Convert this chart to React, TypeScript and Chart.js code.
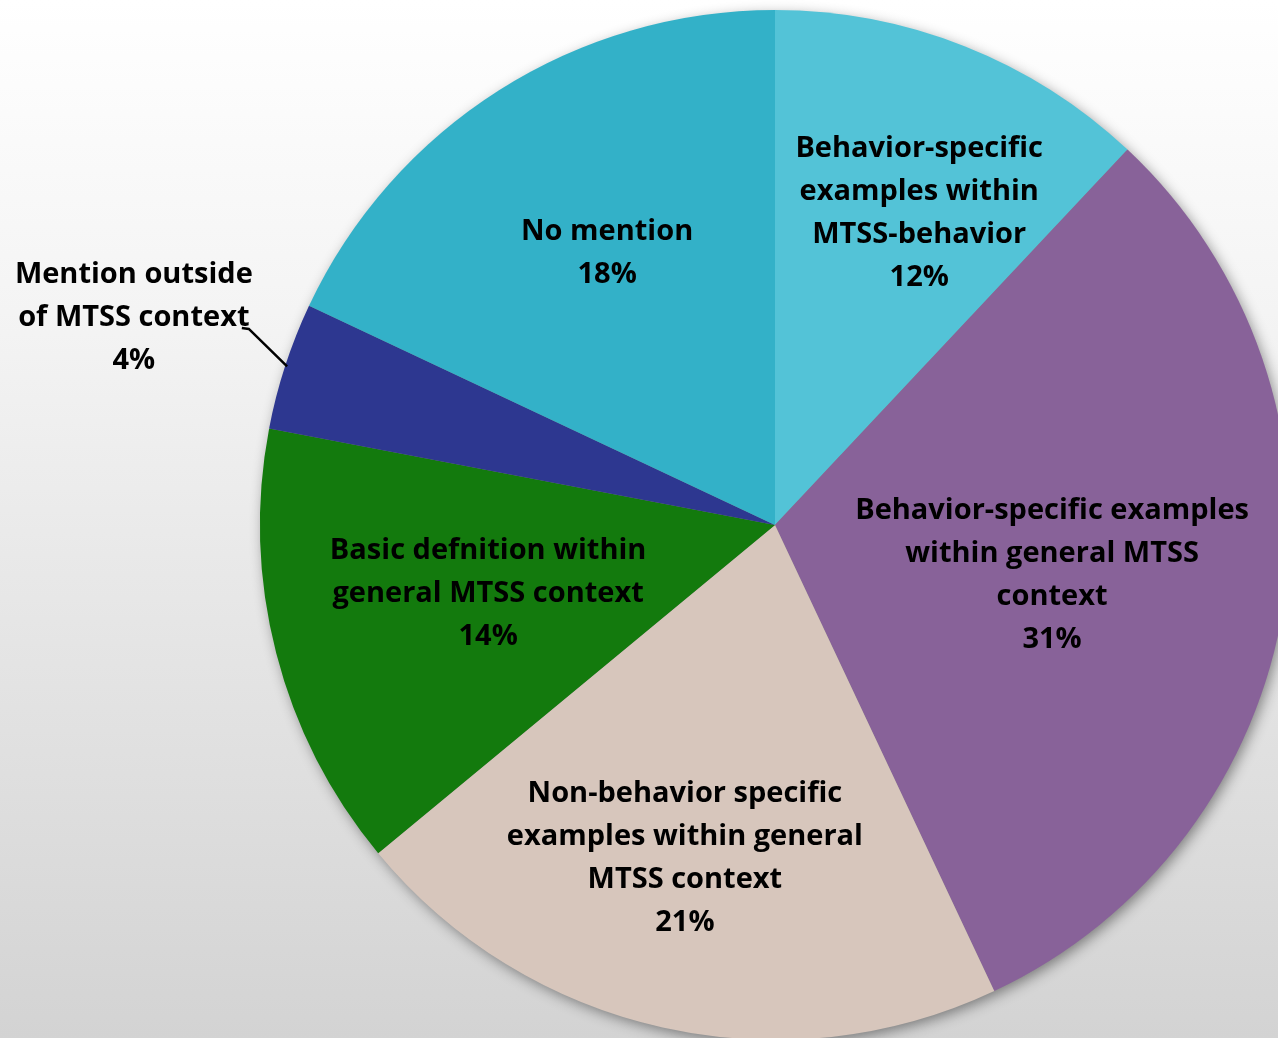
import React, { useEffect, useRef } from "react";
import { Chart, registerables } from "chart.js";

Chart.register(...registerables);

const categories: string[][] = [
  ["Behavior-specific", "examples within", "MTSS-behavior"],
  ["Behavior-specific examples", "within general MTSS", "context"],
  ["Non-behavior specific", "examples within general", "MTSS context"],
  ["Basic defnition within", "general MTSS context"],
  ["Mention outside", "of MTSS context"],
  ["No mention"],
];
const values: number[] = [12, 31, 21, 14, 4, 18];
const percentLabels: string[] = ["12%", "31%", "21%", "14%", "4%", "18%"];
const colors: string[] = ["#53C3D7", "#886299", "#D7C6BC", "#137A0D", "#2D3790", "#33B1C8"];

// label block centres, in units of the pie radius, relative to the pie centre
const labelOffsets: [number, number][] = [
  [0.28, -0.605],
  [0.538, 0.098],
  [-0.175, 0.648],
  [-0.557, 0.134],
  [-1.245, -0.402],
  [-0.326, -0.527],
];
const leaderIndex = 4;

const CW = 1300;
const CH = 1052;

export default function App() {
  const ref = useRef<HTMLCanvasElement | null>(null);
  useEffect(() => {
    if (!ref.current) return;
    const shadowPlugin = {
      id: "pieShadow",
      beforeDatasetsDraw(chart: any) {
        const arc = chart.getDatasetMeta(0).data[0] as any;
        if (!arc) return;
        const ctx = chart.ctx;
        ctx.save();
        ctx.beginPath();
        ctx.arc(arc.x, arc.y, arc.outerRadius - 1, 0, Math.PI * 2);
        ctx.fillStyle = "#888";
        ctx.shadowColor = "rgba(0,0,0,0.45)";
        ctx.shadowBlur = 14;
        ctx.shadowOffsetX = 3;
        ctx.shadowOffsetY = 4;
        ctx.fill();
        ctx.restore();
      },
    };
    const labelPlugin = {
      id: "pieLabels",
      afterDatasetsDraw(chart: any) {
        const meta = chart.getDatasetMeta(0);
        const ctx = chart.ctx;
        const lineH = 43;
        ctx.save();
        ctx.fillStyle = "#000";
        ctx.font = "bold 29px 'Open Sans'";
        ctx.textAlign = "center";
        ctx.textBaseline = "middle";
        meta.data.forEach((el: any, i: number) => {
          const r = el.outerRadius;
          const cx = el.x + labelOffsets[i][0] * r;
          const cy = el.y + labelOffsets[i][1] * r;
          const lines = [...categories[i], percentLabels[i]];
          const top = cy - ((lines.length - 1) * lineH) / 2;
          lines.forEach((t, j) => ctx.fillText(t, cx, top + j * lineH));
          if (i === leaderIndex) {
            const mid = (el.startAngle + el.endAngle) / 2;
            ctx.beginPath();
            ctx.strokeStyle = "#000";
            ctx.lineWidth = 2.5;
            ctx.moveTo(cx + 108, cy + 10);
            ctx.lineTo(cx + 115, cy + 11);
            ctx.lineTo(el.x + Math.cos(mid) * (r - 2), el.y + Math.sin(mid) * (r - 2));
            ctx.stroke();
          }
        });
        ctx.restore();
      },
    };
    const chart = new Chart(ref.current, {
      type: "pie",
      data: {
        labels: categories.map((c) => c.join(" ")),
        datasets: [
          {
            data: values,
            backgroundColor: colors,
            borderWidth: 0,
          },
        ],
      },
      options: {
        animation: false,
        responsive: false,
        devicePixelRatio: 1,
        layout: { padding: { left: 260, top: 10, right: CW - 260 - 1030, bottom: CH - 10 - 1030 } },
        plugins: { legend: { display: false }, tooltip: { enabled: false } },
      },
      plugins: [shadowPlugin, labelPlugin],
    });
    return () => chart.destroy();
  }, []);
  return (
    <div
      style={{
        position: "fixed",
        left: 0,
        top: 0,
        width: 1278,
        height: 1038,
        overflow: "hidden",
        background: "linear-gradient(to bottom, #FFFFFF 0%, #F4F4F4 30%, #D3D3D3 100%)",
      }}
    >
      <canvas ref={ref} width={CW} height={CH} style={{ position: "absolute", left: 0, top: 0, width: CW, height: CH }} />
    </div>
  );
}
